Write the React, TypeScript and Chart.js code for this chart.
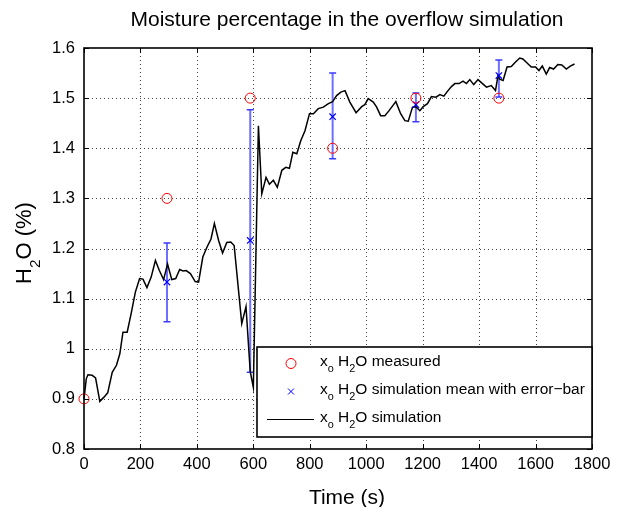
import React, { useEffect, useRef } from "react";
import { Chart, registerables } from "chart.js";

Chart.register(...registerables);

// Simulation curve (time in s, H2O %)
const simTime = [
  0, 8, 14, 29, 41, 56, 70, 84, 100, 115, 127, 138, 153, 167, 182, 197, 209, 223, 238, 253,
  267, 282, 296, 311, 325, 339, 351, 362, 377, 394, 406, 421, 436, 450, 462, 477, 491, 506, 520, 532,
  559, 574, 589, 600, 618, 630, 645, 657, 671, 685, 701, 715, 728, 740, 754, 768, 783, 799, 813, 830,
  848, 866, 881, 895, 910, 925, 942, 964, 984, 995, 1007, 1025, 1037, 1051, 1066, 1081, 1105, 1122, 1137, 1149,
  1164, 1176, 1190, 1202, 1217, 1231, 1247, 1261, 1275, 1287, 1302, 1314, 1329, 1343, 1355, 1367, 1381, 1396, 1412, 1426,
  1443, 1458, 1467, 1473, 1485, 1499, 1514, 1529, 1544, 1555, 1570, 1585, 1600, 1612, 1624, 1638, 1650, 1664, 1679, 1693,
  1709, 1723, 1738,
];
const simValue = [
  0.9, 0.94, 0.948, 0.947, 0.942, 0.895, 0.903, 0.912, 0.953, 0.967, 0.99, 1.033, 1.033, 1.07, 1.113, 1.14, 1.139, 1.122, 1.143, 1.176,
  1.156, 1.138, 1.169, 1.138, 1.14, 1.158, 1.155, 1.156, 1.15, 1.134, 1.133, 1.183, 1.203, 1.219, 1.25, 1.216, 1.191, 1.212, 1.213, 1.206,
  1.05, 1.084, 0.955, 0.923, 1.445, 1.309, 1.342, 1.328, 1.336, 1.322, 1.356, 1.362, 1.36, 1.392, 1.389, 1.415, 1.435, 1.469, 1.469, 1.479,
  1.482, 1.489, 1.493, 1.505, 1.512, 1.515, 1.492, 1.471, 1.483, 1.487, 1.499, 1.492, 1.482, 1.465, 1.465, 1.475, 1.493, 1.469, 1.455, 1.454,
  1.482, 1.483, 1.475, 1.483, 1.489, 1.503, 1.502, 1.507, 1.504, 1.513, 1.523, 1.529, 1.529, 1.534, 1.529, 1.537, 1.527, 1.537, 1.529, 1.522,
  1.525, 1.515, 1.545, 1.538, 1.535, 1.562, 1.563, 1.572, 1.58, 1.578, 1.57, 1.562, 1.562, 1.555, 1.564, 1.548, 1.561, 1.558, 1.567, 1.566,
  1.558, 1.564, 1.568,
];

// Measured points
const measTime = [0, 294, 589, 881, 1176, 1470];
const measValue = [0.9, 1.3, 1.5, 1.4, 1.5, 1.5];

// Simulation mean with error bars
const meanTime = [294, 589, 881, 1176, 1470];
const meanValue = [1.133, 1.216, 1.463, 1.487, 1.545];
const errLow = [1.054, 0.953, 1.379, 1.453, 1.502];
const errHigh = [1.211, 1.477, 1.55, 1.51, 1.576];

// Axis ticks
const xTicks = [0, 200, 400, 600, 800, 1000, 1200, 1400, 1600, 1800];
const yTicks = [0.8, 0.9, 1.0, 1.1, 1.2, 1.3, 1.4, 1.5, 1.6];

const titleText = "Moisture percentage in the overflow simulation";
const xTitle = "Time (s)";
const FONT = '"Liberation Sans", Arial, Helvetica, sans-serif';

type Part = [string, boolean];

function richWidth(ctx: CanvasRenderingContext2D, parts: Part[], size: number) {
  let w = 0;
  for (const [s, sub] of parts) {
    ctx.font = `${sub ? size * 0.7 : size}px ${FONT}`;
    w += ctx.measureText(s).width;
  }
  return w;
}

function drawRich(ctx: CanvasRenderingContext2D, parts: Part[], x: number, y: number, size: number) {
  let cx = x;
  ctx.textAlign = "left";
  ctx.textBaseline = "alphabetic";
  for (const [s, sub] of parts) {
    ctx.font = `${sub ? size * 0.7 : size}px ${FONT}`;
    ctx.fillText(s, cx, sub ? y + size * 0.4 : y);
    cx += ctx.measureText(s).width;
  }
}

const legendItems: { parts: Part[]; kind: string }[] = [
  { parts: [["x", false], ["o", true], [" H", false], ["2", true], ["O measured", false]], kind: "circle" },
  { parts: [["x", false], ["o", true], [" H", false], ["2", true], ["O simulation mean with error\u2212bar", false]], kind: "cross" },
  { parts: [["x", false], ["o", true], [" H", false], ["2", true], ["O simulation", false]], kind: "line" },
];

const decorPlugin = {
  id: "matlabDecor",
  beforeDatasetsDraw(chart: any) {
    const ctx: CanvasRenderingContext2D = chart.ctx;
    const { left, right, top, bottom } = chart.chartArea;
    const xs = chart.scales.x;
    const ys = chart.scales.y;
    ctx.save();
    // dotted grid
    ctx.strokeStyle = "#444";
    ctx.lineWidth = 1;
    ctx.setLineDash([1, 3]);
    for (const t of xTicks) {
      const px = Math.round(xs.getPixelForValue(t)) + 0.5;
      if (Math.abs(px - left) < 2 || Math.abs(px - right) < 2) continue;
      ctx.beginPath();
      ctx.moveTo(px, bottom);
      ctx.lineTo(px, top);
      ctx.stroke();
    }
    for (const v of yTicks) {
      const py = Math.round(ys.getPixelForValue(v)) + 0.5;
      if (Math.abs(py - top) < 2 || Math.abs(py - bottom) < 2) continue;
      ctx.beginPath();
      ctx.moveTo(left, py);
      ctx.lineTo(right, py);
      ctx.stroke();
    }
    ctx.setLineDash([]);
    // error bars
    for (let i = 0; i < meanTime.length; i++) {
      const px = xs.getPixelForValue(meanTime[i]);
      const pl = ys.getPixelForValue(errLow[i]);
      const ph = ys.getPixelForValue(errHigh[i]);
      ctx.strokeStyle = "#6e6eff";
      ctx.lineWidth = 2;
      ctx.beginPath();
      ctx.moveTo(px, pl);
      ctx.lineTo(px, ph);
      ctx.stroke();
      ctx.strokeStyle = "#3a3aff";
      ctx.lineWidth = 1.5;
      ctx.beginPath();
      ctx.moveTo(px - 3.5, pl);
      ctx.lineTo(px + 3.5, pl);
      ctx.moveTo(px - 3.5, ph);
      ctx.lineTo(px + 3.5, ph);
      ctx.stroke();
    }
    ctx.restore();
  },
  afterDatasetsDraw(chart: any) {
    const ctx: CanvasRenderingContext2D = chart.ctx;
    const { left, right, top, bottom } = chart.chartArea;
    const xs = chart.scales.x;
    const ys = chart.scales.y;
    ctx.save();
    // inward ticks
    ctx.strokeStyle = "#000";
    ctx.lineWidth = 1;
    const tl = 5;
    ctx.beginPath();
    for (const t of xTicks) {
      const px = Math.round(xs.getPixelForValue(t)) + 0.5;
      ctx.moveTo(px, bottom);
      ctx.lineTo(px, bottom - tl);
      ctx.moveTo(px, top);
      ctx.lineTo(px, top + tl);
    }
    for (const v of yTicks) {
      const py = Math.round(ys.getPixelForValue(v)) + 0.5;
      ctx.moveTo(left, py);
      ctx.lineTo(left + tl, py);
      ctx.moveTo(right, py);
      ctx.lineTo(right - tl, py);
    }
    ctx.stroke();
    // box
    ctx.lineWidth = 1.6;
    ctx.strokeRect(left, top, right - left, bottom - top);

    // legend
    const lx0 = 257, ly0 = 347, lx1 = right, ly1 = 437;
    ctx.fillStyle = "#fff";
    ctx.fillRect(lx0, ly0, lx1 - lx0, ly1 - ly0);
    ctx.lineWidth = 1.6;
    ctx.strokeStyle = "#000";
    ctx.strokeRect(lx0, ly0, lx1 - lx0, ly1 - ly0);
    const rowY = [363.5, 391.5, 419.5];
    const size = 15.5;
    legendItems.forEach((it, i) => {
      const cy = rowY[i];
      if (it.kind === "circle") {
        ctx.strokeStyle = "#ff0000";
        ctx.lineWidth = 1;
        ctx.beginPath();
        ctx.arc(291, cy, 5, 0, Math.PI * 2);
        ctx.stroke();
      } else if (it.kind === "cross") {
        ctx.strokeStyle = "#0000ff";
        ctx.lineWidth = 1;
        ctx.beginPath();
        ctx.moveTo(288, cy - 3);
        ctx.lineTo(294, cy + 3);
        ctx.moveTo(294, cy - 3);
        ctx.lineTo(288, cy + 3);
        ctx.stroke();
      } else {
        ctx.strokeStyle = "#000";
        ctx.lineWidth = 1;
        ctx.beginPath();
        ctx.moveTo(267, cy);
        ctx.lineTo(314, cy);
        ctx.stroke();
      }
      ctx.fillStyle = "#000";
      drawRich(ctx, it.parts, 320, cy + 2.5, size);
    });

    // title
    const cx = 347;
    ctx.fillStyle = "#000";
    ctx.font = `21px ${FONT}`;
    ctx.textAlign = "center";
    ctx.textBaseline = "alphabetic";
    ctx.fillText(titleText, cx, 26);

    // x title
    ctx.font = `21px ${FONT}`;
    ctx.fillText(xTitle, cx, 504);

    // y title
    const yParts: Part[] = [["H", false], ["2", true], ["O (%)", false]];
    const ysz = 22;
    const w = richWidth(ctx, yParts, ysz);
    ctx.save();
    ctx.translate(31, 243);
    ctx.rotate(-Math.PI / 2);
    drawRich(ctx, yParts, -w / 2, 0, ysz);
    ctx.restore();

    ctx.restore();
  },
};

export default function App() {
  const ref = useRef<HTMLCanvasElement | null>(null);
  useEffect(() => {
    const canvas = ref.current;
    if (!canvas) return;
    const lineData = simTime.map((t, i) => ({ x: t, y: simValue[i] }));
    const measData = measTime.map((t, i) => ({ x: t, y: measValue[i] }));
    const meanData = meanTime.map((t, i) => ({ x: t, y: meanValue[i] }));
    const chart = new Chart(canvas, {
      type: "scatter",
      data: {
        datasets: [
          {
            label: "simulation",
            data: lineData,
            showLine: true,
            borderColor: "#000",
            borderWidth: 1.5,
            pointRadius: 0,
            tension: 0,
            order: 3,
          },
          {
            label: "mean",
            data: meanData,
            pointStyle: "crossRot",
            pointRadius: 4.5,
            borderColor: "#0000ff",
            backgroundColor: "#0000ff",
            borderWidth: 1.2,
            order: 2,
          },
          {
            label: "measured",
            data: measData,
            pointStyle: "circle",
            pointRadius: 5,
            borderColor: "#ff0000",
            backgroundColor: "rgba(0,0,0,0)",
            borderWidth: 1,
            order: 1,
          },
        ],
      },
      options: {
        animation: false,
        responsive: false,
        devicePixelRatio: 1,
        clip: false as any,
        layout: { padding: { top: 48, right: 36, left: 0, bottom: 0 } },
        plugins: {
          legend: { display: false },
          tooltip: { enabled: false },
          title: { display: false },
        },
        scales: {
          x: {
            type: "linear",
            min: 0,
            max: 1800,
            afterFit: (s: any) => {
              s.height = 58;
            },
            afterBuildTicks: (s: any) => {
              s.ticks = xTicks.map((v) => ({ value: v }));
            },
            ticks: {
              autoSkip: false,
              maxRotation: 0,
              padding: 6,
              color: "#000",
              font: { family: FONT, size: 16.5 },
              callback: (v: any) => String(v),
            },
            grid: { display: false, drawTicks: false },
            border: { display: false },
          },
          y: {
            type: "linear",
            min: 0.8,
            max: 1.6,
            afterFit: (s: any) => {
              s.width = 84;
            },
            afterBuildTicks: (s: any) => {
              s.ticks = yTicks.map((v) => ({ value: v }));
            },
            ticks: {
              autoSkip: false,
              padding: 9,
              color: "#000",
              font: { family: FONT, size: 16.5 },
              callback: (v: any) => String(Number(Number(v).toFixed(1))),
            },
            grid: { display: false, drawTicks: false },
            border: { display: false },
          },
        },
      },
      plugins: [decorPlugin],
    });
    return () => chart.destroy();
  }, []);
  return (
    <div style={{ position: "absolute", left: 0, top: 0, width: 628, height: 507, background: "#fff" }}>
      <canvas ref={ref} width={628} height={507} style={{ width: 628, height: 507, display: "block" }} />
    </div>
  );
}
